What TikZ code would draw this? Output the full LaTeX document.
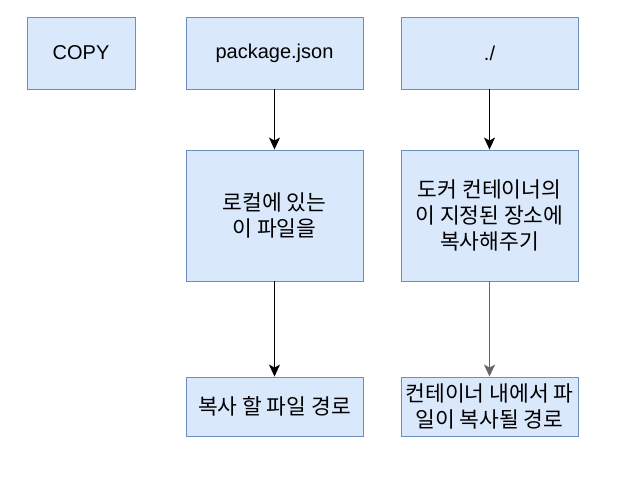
\documentclass[tikz,border=0pt]{standalone}
\usepackage{fontspec}
\setmainfont{Liberation Sans}
\newfontfamily\cjkfont{Noto Sans CJK KR}
\newcommand\kor{\cjkfont\fontsize{21.5}{26}\selectfont}
\usetikzlibrary{arrows.meta}
\definecolor{boxfill}{HTML}{DAE8FC}
\definecolor{boxline}{HTML}{6C8EBF}
\definecolor{greyline}{HTML}{666666}
\tikzset{
  stepbox/.style={draw=boxline, fill=boxfill, line width=0.9pt, align=center,
    minimum width=177pt, inner sep=2pt, font=\fontsize{20}{26}\selectfont},
  flow/.style={-{Stealth[length=12pt,width=11pt,inset=3pt]}, line width=1.4pt},
}
\begin{document}
\begin{tikzpicture}[x=1pt,y=-1pt]
  \useasboundingbox (0,0) rectangle (637,477);
  % top row
  \node[stepbox, minimum width=108pt, minimum height=72pt] (copy) at (81,53) {COPY};
  \node[stepbox, minimum height=72pt] (src) at (274.5,53) {package.json};
  \node[stepbox, minimum height=72pt] (dest) at (489.5,53) {./};
  % middle row
  \node[stepbox, minimum height=131pt] (local) at (274.5,215.5) {\kor 로컬에 있는\\\kor 이 파일을};
  \node[stepbox, minimum height=131pt] (docker) at (489.5,215.5) {\kor 도커 컨테이너의\\\kor 이 지정된 장소에\\\kor 복사해주기};
  % bottom row
  \node[stepbox, minimum height=59pt] (srcpath) at (274.5,406.5) {\kor 복사 할 파일 경로};
  \node[stepbox, minimum height=59pt] (destpath) at (489.5,406.5) {\kor 컨테이너 내에서 파\\\kor 일이 복사될 경로};
  % arrows
  \draw[flow] (src) -- (local);
  \draw[flow] (local) -- (srcpath);
  \draw[flow] (dest) -- (docker);
  \draw[flow, draw=greyline] (docker) -- (destpath);
\end{tikzpicture}
\end{document}
